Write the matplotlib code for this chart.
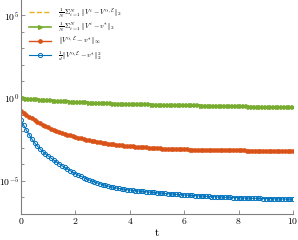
"""
Recreate the convergence plot: error measures vs time t on a log scale.
"""

import matplotlib

matplotlib.use("Agg")
import matplotlib.pyplot as plt
import numpy as np
from matplotlib.ticker import FixedLocator, NullFormatter

plt.rcParams["mathtext.fontset"] = "cm"
plt.rcParams["font.family"] = "serif"
plt.rcParams["font.serif"] = ["DejaVu Serif"]

# time grid (step 0.1 from 0 to 10)
T_STEPS = list(range(0, 101))

# log10 of each series at every marker
LOG_MEAN_DEV = [
    0.000, -0.016, -0.031, -0.046, -0.060, -0.074, -0.087, -0.100, -0.113, -0.126, -0.138,
    -0.149, -0.160, -0.170, -0.180, -0.190, -0.200, -0.209, -0.218, -0.227, -0.236,
    -0.244, -0.252, -0.260, -0.268, -0.275, -0.282, -0.289, -0.296, -0.303, -0.310,
    -0.316, -0.321, -0.327, -0.332, -0.337, -0.342, -0.347, -0.352, -0.357, -0.362,
    -0.366, -0.370, -0.374, -0.378, -0.382, -0.386, -0.390, -0.394, -0.398, -0.402,
    -0.405, -0.409, -0.412, -0.415, -0.419, -0.422, -0.425, -0.428, -0.432, -0.435,
    -0.438, -0.441, -0.445, -0.448, -0.451, -0.454, -0.457, -0.461, -0.464, -0.467,
    -0.470, -0.474, -0.477, -0.480, -0.484, -0.487, -0.490, -0.493, -0.497, -0.500,
    -0.503, -0.507, -0.510, -0.514, -0.517, -0.521, -0.524, -0.528, -0.531, -0.535,
    -0.538, -0.542, -0.545, -0.549, -0.552, -0.556, -0.559, -0.563, -0.566, -0.570,
]
LOG_MEAN_DIST = [
    0.000, -0.016, -0.031, -0.046, -0.060, -0.074, -0.087, -0.100, -0.113, -0.126, -0.138,
    -0.149, -0.160, -0.170, -0.180, -0.190, -0.200, -0.209, -0.218, -0.227, -0.236,
    -0.244, -0.252, -0.260, -0.268, -0.275, -0.282, -0.289, -0.296, -0.303, -0.310,
    -0.316, -0.321, -0.327, -0.332, -0.337, -0.342, -0.347, -0.352, -0.357, -0.362,
    -0.366, -0.370, -0.374, -0.378, -0.382, -0.386, -0.390, -0.394, -0.398, -0.402,
    -0.405, -0.409, -0.412, -0.415, -0.419, -0.422, -0.425, -0.428, -0.432, -0.435,
    -0.438, -0.441, -0.445, -0.448, -0.451, -0.454, -0.457, -0.461, -0.464, -0.467,
    -0.470, -0.474, -0.477, -0.480, -0.484, -0.487, -0.490, -0.493, -0.497, -0.500,
    -0.503, -0.507, -0.510, -0.514, -0.517, -0.521, -0.524, -0.528, -0.531, -0.535,
    -0.538, -0.542, -0.545, -0.549, -0.552, -0.556, -0.559, -0.563, -0.566, -0.570,
]
LOG_SUP_ERR = [
    -0.77, -0.90, -1.01, -1.13, -1.23, -1.33, -1.43, -1.52, -1.61, -1.69, -1.77,
    -1.84, -1.91, -1.98, -2.04, -2.10, -2.16, -2.21, -2.26, -2.31, -2.35,
    -2.40, -2.44, -2.48, -2.52, -2.55, -2.58, -2.62, -2.64, -2.67, -2.70,
    -2.73, -2.75, -2.77, -2.80, -2.82, -2.84, -2.86, -2.87, -2.89, -2.91,
    -2.92, -2.93, -2.95, -2.96, -2.97, -2.98, -3.00, -3.01, -3.02, -3.03,
    -3.04, -3.05, -3.05, -3.06, -3.07, -3.07, -3.08, -3.08, -3.09, -3.10,
    -3.10, -3.11, -3.11, -3.12, -3.12, -3.12, -3.13, -3.13, -3.13, -3.14,
    -3.14, -3.14, -3.15, -3.15, -3.15, -3.15, -3.15, -3.16, -3.16, -3.16,
    -3.16, -3.16, -3.17, -3.17, -3.17, -3.17, -3.17, -3.17, -3.18, -3.18,
    -3.18, -3.18, -3.18, -3.18, -3.19, -3.19, -3.19, -3.19, -3.19, -3.19,
]
LOG_SQ_ERR = [
    -1.33, -1.65, -1.95, -2.22, -2.48, -2.70, -2.90, -3.07, -3.23, -3.37, -3.50,
    -3.62, -3.74, -3.86, -3.97, -4.08, -4.18, -4.28, -4.38, -4.47, -4.56,
    -4.64, -4.72, -4.80, -4.87, -4.94, -5.00, -5.06, -5.12, -5.17, -5.22,
    -5.27, -5.31, -5.35, -5.39, -5.43, -5.46, -5.49, -5.51, -5.53, -5.55,
    -5.57, -5.59, -5.61, -5.62, -5.64, -5.66, -5.67, -5.69, -5.70, -5.72,
    -5.73, -5.75, -5.76, -5.77, -5.79, -5.80, -5.81, -5.82, -5.84, -5.85,
    -5.86, -5.87, -5.88, -5.89, -5.90, -5.91, -5.92, -5.93, -5.94, -5.95,
    -5.96, -5.97, -5.97, -5.98, -5.99, -5.99, -6.00, -6.01, -6.01, -6.02,
    -6.03, -6.03, -6.04, -6.04, -6.05, -6.05, -6.06, -6.06, -6.07, -6.07,
    -6.07, -6.08, -6.08, -6.09, -6.09, -6.09, -6.10, -6.10, -6.11, -6.11,
]

LABELS = [
    r"$\frac{1}{N}\,\Sigma_{i=1}^{N}\,\Vert V^i - V^{\alpha,\mathcal{E}}\Vert_2$",
    r"$\frac{1}{N}\,\Sigma_{i=1}^{N}\,\Vert V^i - v^{*}\Vert_2$",
    r"$\Vert V^{\alpha,\mathcal{E}} - v^{*}\Vert_\infty$",
    r"$\frac{1}{d}\Vert V^{\alpha,\mathcal{E}} - v^{*}\Vert_2^2$",
]
X_TICKS = [0, 2, 4, 6, 8, 10]
Y_MAJOR = [-5, 0, 5]

C_YELLOW = "#EDB120"
C_GREEN = "#77AC30"
C_ORANGE = "#D95319"
C_BLUE = "#0072BD"
AX_GRAY = "#808080"

t = np.array(T_STEPS) / 10.0

fig = plt.figure(figsize=(2.98, 2.40), dpi=100)
ax = fig.add_axes([21 / 298, 26 / 240, 272 / 298, 215.4 / 240])

ax.plot(t, 10.0 ** np.array(LOG_MEAN_DEV), color=C_YELLOW, ls="--", lw=1.0,
        label=LABELS[0])
ax.plot(t, 10.0 ** np.array(LOG_MEAN_DIST), color=C_GREEN, lw=1.2, marker=">",
        ms=2.8, label=LABELS[1])
ax.plot(t, 10.0 ** np.array(LOG_SUP_ERR), color=C_ORANGE, lw=1.0, marker="o",
        ms=2.4, label=LABELS[2])
ax.plot(t, 10.0 ** np.array(LOG_SQ_ERR), color=C_BLUE, lw=0.8, marker="o",
        ms=3.0, mfc="none", mew=0.7, label=LABELS[3])

ax.set_yscale("log")
ax.set_xlim(0, 10)
ax.set_ylim(1e-7, 1e6)
ax.set_xticks(X_TICKS)
ax.set_xticklabels([f"${v}$" for v in X_TICKS])
ax.yaxis.set_major_locator(FixedLocator([10.0 ** e for e in Y_MAJOR]))
ax.set_yticklabels([f"$10^{{{e}}}$" for e in Y_MAJOR])
ax.yaxis.set_minor_locator(FixedLocator([10.0 ** e for e in range(-7, 7)]))
ax.yaxis.set_minor_formatter(NullFormatter())

for side in ("top", "right"):
    ax.spines[side].set_visible(False)
for side in ("left", "bottom"):
    ax.spines[side].set_color(AX_GRAY)
    ax.spines[side].set_linewidth(0.8)
ax.tick_params(which="both", direction="in", color=AX_GRAY, labelsize=7,
               width=0.6, pad=1.5)
ax.tick_params(which="major", length=3)
ax.tick_params(which="minor", length=1.8)
ax.set_xlabel(r"$\mathrm{t}$", fontsize=8, labelpad=1)

ax.legend(loc="upper left", bbox_to_anchor=(0.015, 0.985), frameon=False,
          fontsize=5.2, handlelength=3.0, handletextpad=0.9, labelspacing=0.12,
          borderaxespad=0.2)

fig.savefig("out.png", dpi=100)
